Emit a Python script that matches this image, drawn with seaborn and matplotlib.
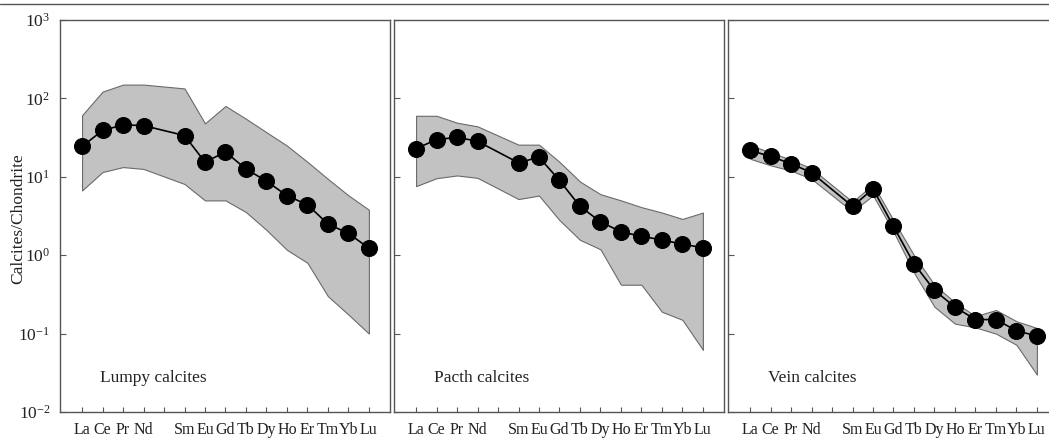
import numpy as np
import pandas as pd
import matplotlib
matplotlib.use("Agg")
import matplotlib.pyplot as plt
import seaborn as sns
from matplotlib.lines import Line2D

# ---------------- data ----------------
tick_labels = ["La", "Ce", "Pr", "Nd", "", "Sm", "Eu", "Gd", "Tb", "Dy", "Ho", "Er", "Tm", "Yb", "Lu"]
elements = ["La", "Ce", "Pr", "Nd", "Sm", "Eu", "Gd", "Tb", "Dy", "Ho", "Er", "Tm", "Yb", "Lu"]

lumpy_mean = [24.4, 39, 46, 45, 33.6, 15.4, 20.7, 12.6, 8.8, 5.75, 4.4, 2.5, 1.9, 1.23]
lumpy_max = [61, 122, 150, 150, 134, 48, 80, 55, 37, 25, 15.5, 9.4, 5.8, 3.8]
lumpy_min = [6.7, 11.5, 13.3, 12.6, 8.1, 5.0, 5.0, 3.55, 2.1, 1.17, 0.8, 0.30, 0.175, 0.10]

pacth_mean = [22.9, 29.8, 31.9, 28.4, 15.1, 17.8, 9.0, 4.2, 2.67, 1.99, 1.74, 1.57, 1.38, 1.25]
pacth_max = [60, 60, 49, 44, 25.7, 25.7, 15.5, 8.7, 6.0, 5.0, 4.1, 3.5, 2.9, 3.5]
pacth_min = [7.6, 9.6, 10.4, 9.7, 5.2, 5.76, 2.8, 1.57, 1.19, 0.42, 0.42, 0.19, 0.15, 0.062]

vein_mean = [21.7, 18.2, 14.7, 11.3, 4.2, 7.0, 2.33, 0.78, 0.356, 0.218, 0.151, 0.151, 0.109, 0.093]
vein_max = [25.3, 20.5, 16.5, 12.8, 4.8, 8.0, 2.8, 1.0, 0.42, 0.25, 0.167, 0.20, 0.144, 0.118]
vein_min = [17.0, 14.0, 12.0, 9.4, 3.6, 5.8, 2.0, 0.6, 0.22, 0.134, 0.12, 0.10, 0.072, 0.03]

panel_titles = ["Lumpy calcites", "Pacth calcites", "Vein calcites"]
ytick_values = [1e-2, 1e-1, 1e0, 1e1, 1e2, 1e3]
ytick_labels = ["10$^{-2}$", "10$^{-1}$", "10$^{0}$", "10$^{1}$", "10$^{2}$", "10$^{3}$"]
ylabel = "Calcites/Chondrite"

# ---------------- style ----------------
sns.set_theme(style="ticks")
plt.rcParams["font.family"] = ["Liberation Serif", "DejaVu Serif"]
plt.rcParams["mathtext.fontset"] = "custom"
plt.rcParams["mathtext.rm"] = "Liberation Serif"
plt.rcParams["mathtext.it"] = "Liberation Serif:italic"

W, H = 1049, 438
fig = plt.figure(figsize=(W / 100, H / 100), dpi=100)

positions = [i for i, t in enumerate(tick_labels) if t != ""]
panels = [
    (lumpy_mean, lumpy_max, lumpy_min),
    (pacth_mean, pacth_max, pacth_min),
    (vein_mean, vein_max, vein_min),
]
lefts = [60, 394, 728]
ax_w = 330
bottom_px, top_px = 412, 20
spine_col = "#555555"

for k, (mean, mx, mn) in enumerate(panels):
    ax = fig.add_axes([lefts[k] / W, (H - bottom_px) / H, ax_w / W, (bottom_px - top_px) / H])
    df = pd.DataFrame({"pos": positions, "element": elements, "value": mean})
    ax.fill_between(positions, mn, mx, facecolor="#c2c2c2", edgecolor="#6a6a6a",
                    linewidth=0.8, zorder=1)
    sns.lineplot(data=df, x="pos", y="value", ax=ax, color="black", linewidth=1.2,
                 marker="o", markersize=11.5, markeredgecolor="black",
                 markerfacecolor="black", zorder=3, sort=False)
    ax.set_yscale("log")
    ax.set_ylim(1e-2, 1e3)
    ax.set_xlim(-1.077, 15.03)
    ax.set_xticks(range(len(tick_labels)))
    ax.set_xticklabels(tick_labels, fontsize=11.5)
    ax.set_yticks(ytick_values)
    ax.yaxis.set_minor_locator(matplotlib.ticker.NullLocator())
    if k == 0:
        ax.set_yticklabels(ytick_labels, fontsize=12.5)
    else:
        ax.set_yticklabels([])
    ax.tick_params(axis="x", direction="in", length=3.5, width=0.8, color=spine_col,
                   pad=7, labelcolor="#222222")
    ax.tick_params(axis="y", direction="in", length=4, width=0.8, color=spine_col,
                   pad=7, labelcolor="#222222")
    ax.set_xlabel("")
    ax.set_ylabel("")
    for s in ax.spines.values():
        s.set_visible(True)
        s.set_color(spine_col)
        s.set_linewidth(1.0)
    ax.text(0.12, 0.087, panel_titles[k], transform=ax.transAxes, fontsize=12.5,
            color="#222222", va="center", ha="left")

fig.text(18 / W, 0.5, ylabel, rotation=90, fontsize=12.5, color="#222222",
         va="center", ha="center")

fig.add_artist(Line2D([0, 1], [1 - 4 / H, 1 - 4 / H], transform=fig.transFigure,
                      color="#555555", linewidth=1.0))

fig.savefig("out.png", dpi=100)
